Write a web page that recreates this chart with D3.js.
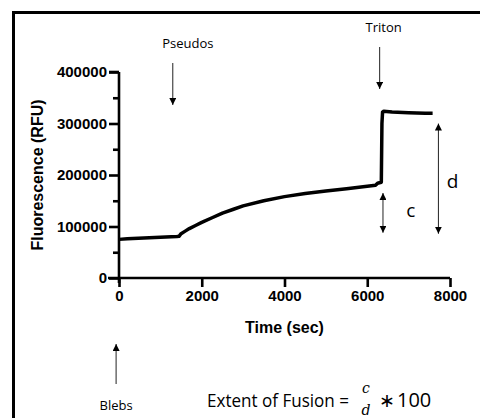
<!DOCTYPE html>
<html>
<head>
<meta charset="utf-8">
<script src="https://cdn.jsdelivr.net/npm/d3@7"></script>
<style>
  body { margin: 0; background: #fff; }
  svg { display: block; }
</style>
</head>
<body>
<svg id="chart" width="480" height="418"></svg>
<script>
// time (sec) and fluorescence (RFU)
const times = [0, 200, 600, 1000, 1400, 1450, 1500, 1600, 1700, 1850, 2000, 2250, 2500, 2750, 3000,
  3500, 4000, 4500, 5000, 5500, 6000, 6200, 6250, 6340, 6355, 6370, 6400, 6600, 7000, 7400, 7580];
const rfu = [75000, 76000, 77500, 79000, 80500, 81000, 86000, 91000, 96000, 102000, 108000, 117000, 126000, 133000, 140000,
  150000, 158000, 164000, 169000, 173500, 178000, 180000, 184000, 186000, 300000, 322000, 324000, 322500, 321000, 320000, 320000];

const xTicks = [0, 2000, 4000, 6000, 8000];
const yTicks = [0, 100000, 200000, 300000, 400000];
const yMinor = [50000, 150000, 250000, 350000];

// annotation arrows (time positions)
const events = [
  { label: "Pseudos", t: 1300 },
  { label: "Triton", t: 6300 }
];

const svg = d3.select("#chart");

// outer frame (only top and left edges visible)
svg.append("rect")
  .attr("x", 13.5).attr("y", 12.5)
  .attr("width", 500).attr("height", 450)
  .attr("fill", "none").attr("stroke", "#000").attr("stroke-width", 3);

const x = d3.scaleLinear().domain([0, 8000]).range([119, 450]);
const y = d3.scaleLinear().domain([0, 400000]).range([278, 72]);

const g = svg.append("g");

// y axis
const yAxis = g.append("g")
  .attr("transform", `translate(${x(0)},0)`)
  .call(d3.axisLeft(y).tickValues(yTicks).tickFormat(d3.format("d")).tickSize(10).tickPadding(2));
g.append("g")
  .attr("transform", `translate(${x(0)},0)`)
  .call(d3.axisLeft(y).tickValues(yMinor).tickFormat("").tickSize(6))
  .call((s) => s.select(".domain").remove());

// x axis
const xAxis = g.append("g")
  .attr("transform", `translate(0,${y(0)})`)
  .call(d3.axisBottom(x).tickValues(xTicks).tickFormat(d3.format("d")).tickSize(9).tickPadding(3));

g.selectAll(".domain").attr("stroke-width", 2.6).attr("stroke", "#000");
g.selectAll(".tick line").attr("stroke-width", 2.6).attr("stroke", "#000");
g.selectAll(".tick text")
  .attr("font-family", "Liberation Sans, Arial, sans-serif")
  .attr("font-weight", "bold")
  .attr("font-size", 15)
  .attr("fill", "#000");
yAxis.select(".domain").attr("d", `M0,${y(400000)}H0V${y(0) + 5}`);
yAxis.append("path").attr("d", `M-10,${y(400000)}H0`).attr("stroke", "#000").attr("stroke-width", 2.6);
xAxis.select(".domain").attr("d", `M${x(0) - 11},0H${x(8000)}`);

// axis titles
svg.append("text")
  .attr("x", x(4000)).attr("y", 333)
  .attr("text-anchor", "middle")
  .attr("font-family", "Liberation Sans, Arial, sans-serif")
  .attr("font-weight", "bold").attr("font-size", 16)
  .text("Time (sec)");

svg.append("text")
  .attr("transform", `translate(43,${y(200000)}) rotate(-90)`)
  .attr("text-anchor", "middle")
  .attr("font-family", "Liberation Sans, Arial, sans-serif")
  .attr("font-weight", "bold").attr("font-size", 16)
  .text("Fluorescence (RFU)");

// trace
const line = d3.line().x((d, i) => x(times[i])).y((d) => y(d));
svg.append("path")
  .datum(rfu)
  .attr("d", line)
  .attr("fill", "none")
  .attr("stroke", "#000")
  .attr("stroke-width", 3.5)
  .attr("stroke-linejoin", "round");

// arrows
const defs = svg.append("defs");
defs.append("marker")
  .attr("id", "head")
  .attr("viewBox", "0 0 10 10")
  .attr("refX", 10).attr("refY", 5)
  .attr("markerWidth", 7).attr("markerHeight", 7)
  .attr("markerUnits", "userSpaceOnUse")
  .attr("orient", "auto-start-reverse")
  .append("path").attr("d", "M0,0L10,5L0,10Z").attr("fill", "#000");

function arrow(x1, y1, x2, y2, both) {
  const p = svg.append("line")
    .attr("x1", x1).attr("y1", y1).attr("x2", x2).attr("y2", y2)
    .attr("stroke", "#222").attr("stroke-width", 1)
    .attr("marker-end", "url(#head)");
  if (both) p.attr("marker-start", "url(#head)");
}

const annoFont = "Open Sans, Lato, sans-serif";

events.forEach((e, i) => {
  const ty = i === 0 ? 48 : 32;
  svg.append("text")
    .attr("x", x(e.t) + (i === 0 ? 15 : 4)).attr("y", ty)
    .attr("text-anchor", "middle")
    .attr("font-family", annoFont).attr("font-size", 13)
    .text(e.label);
  arrow(x(e.t), ty + 15, x(e.t), ty + 57);
});

// Blebs (added at time 0)
arrow(x(-70), 384, x(-70), 344);
svg.append("text")
  .attr("x", x(-70)).attr("y", 410)
  .attr("text-anchor", "middle")
  .attr("font-family", annoFont).attr("font-size", 13)
  .text("Blebs");

// c and d
arrow(x(6380), y(165000), x(6380), y(88000), true);
svg.append("text")
  .attr("x", x(7050)).attr("y", y(118000))
  .attr("text-anchor", "middle")
  .attr("font-family", annoFont).attr("font-size", 19)
  .text("c");
arrow(x(7720), y(300000), x(7720), y(86000), true);
svg.append("text")
  .attr("x", x(8060)).attr("y", y(174000))
  .attr("text-anchor", "middle")
  .attr("font-family", annoFont).attr("font-size", 19)
  .text("d");

// formula
const f = svg.append("g").attr("font-family", annoFont).attr("font-size", 17.5);
f.append("text").attr("x", 207).attr("y", 407)
  .attr("textLength", 142).attr("lengthAdjust", "spacingAndGlyphs")
  .text("Extent of Fusion =");
const mathFont = "DejaVu Serif, Liberation Serif, serif";
f.append("text").attr("x", 366).attr("y", 393).attr("text-anchor", "middle")
  .attr("font-family", mathFont).attr("font-size", 14).attr("font-style", "italic").text("c");
f.append("text").attr("x", 366).attr("y", 415).attr("text-anchor", "middle")
  .attr("font-family", mathFont).attr("font-size", 14).attr("font-style", "italic").text("d");
f.append("text").attr("x", 379).attr("y", 407).attr("font-size", 19).text("\u2217");
f.append("text").attr("x", 397).attr("y", 407).attr("font-size", 20).text("100");
</script>
</body>
</html>
